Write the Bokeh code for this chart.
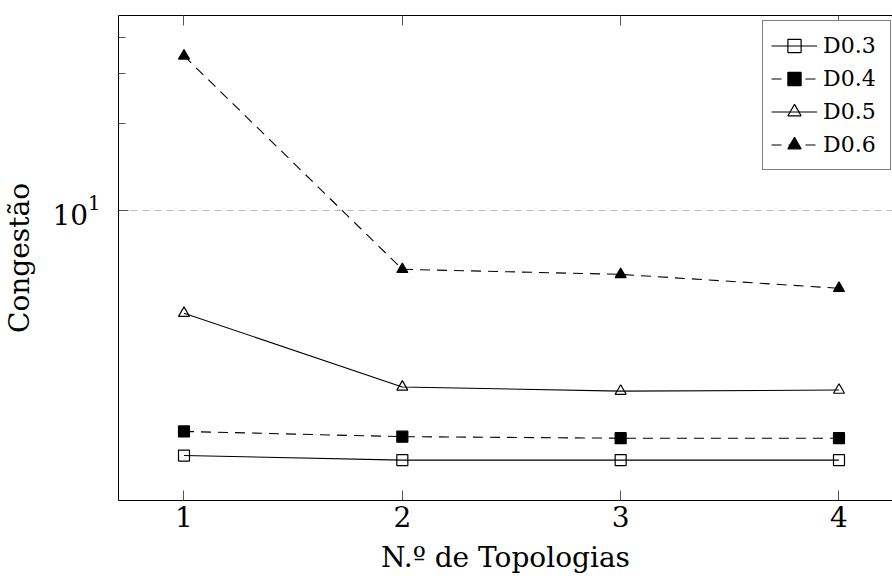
import math
from bokeh.plotting import figure
from bokeh.models import FixedTicker, LinearAxis, Legend, LegendItem, Range1d, LogAxis, Grid
from bokeh.embed import file_html
from bokeh.resources import INLINE

# ---- data ----
topologias = [1, 2, 3, 4]
d03 = [1.41, 1.36, 1.36, 1.36]
d04 = [1.71, 1.64, 1.62, 1.62]
d05 = [4.40, 2.44, 2.36, 2.38]
d06 = [34.4, 6.25, 6.00, 5.37]
series_names = ["D0.3", "D0.4", "D0.5", "D0.6"]
x_ticks = [1, 2, 3, 4]
y_major_ticks = [10]
y_minor_ticks = [20, 30, 40]
y_tick_labels = {"10": "10¹"}
x_label = "N.º de Topologias"
y_label = "Congestão"

FONT = "DejaVu Serif"

# pgfplots-like enlarged limits (10% of the log range on both sides)
all_vals = d03 + d04 + d05 + d06
lo, hi = math.log10(min(all_vals)), math.log10(max(all_vals))
pad = 0.1 * (hi - lo)
y_start, y_end = 10 ** (lo - pad), 10 ** (hi + pad)

W, H = 892, 581
BL, BR, BT, BB = 118, 0, 15, 81
FRAME_W = W - BL - BR
x_start = 0.7
x_end = x_start + FRAME_W / 218.33  # right part of the axis is cut off

p = figure(width=W, height=H,
           min_border_left=BL, min_border_right=BR, min_border_top=BT, min_border_bottom=BB,
           x_range=Range1d(x_start, x_end), y_range=Range1d(y_start, y_end),
           y_axis_type="log", y_axis_location=None, x_axis_location=None,
           output_backend="svg", toolbar_location=None)
p.outline_line_color = None
p.background_fill_color = "white"
p.border_fill_color = "white"
p.grid.visible = False

# bottom axis
xb = LinearAxis(ticker=FixedTicker(ticks=x_ticks), axis_label=x_label)
# top axis (border + inward ticks, labels hidden)
xt = LinearAxis(ticker=FixedTicker(ticks=x_ticks))
for ax in (xb, xt):
    ax.axis_line_color = "black"
    ax.axis_line_width = 1
    ax.major_tick_in = 10
    ax.major_tick_out = 0
    ax.minor_tick_in = 0
    ax.minor_tick_out = 0
    ax.major_tick_line_color = "#555555"
xb.major_label_text_font = FONT
xb.major_label_text_font_size = "28px"
xb.major_label_text_color = "black"
xb.major_label_standoff = 5
xb.axis_label_text_font = FONT
xb.axis_label_text_font_size = "28px"
xb.axis_label_text_font_style = "normal"
xb.axis_label_text_color = "black"
xb.axis_label_standoff = 11
xt.major_label_text_font_size = "1px"
xt.major_label_text_color = None
xt.major_label_standoff = 0
p.add_layout(xb, "below")
p.add_layout(xt, "above")

# left log axis
yl = LogAxis(ticker=FixedTicker(ticks=y_major_ticks, minor_ticks=y_minor_ticks), axis_label=y_label)
yl.axis_line_color = "black"
yl.major_tick_in = 10
yl.major_tick_out = 0
yl.minor_tick_in = 7
yl.minor_tick_out = 0
yl.major_tick_line_color = "#555555"
yl.minor_tick_line_color = "#555555"
yl.major_label_overrides = y_tick_labels
yl.major_label_text_font = FONT
yl.major_label_text_font_size = "28px"
yl.major_label_text_color = "black"
yl.major_label_standoff = 18
yl.axis_label_text_font = FONT
yl.axis_label_text_font_size = "28px"
yl.axis_label_text_font_style = "normal"
yl.axis_label_text_color = "black"
yl.axis_label_standoff = 13
p.add_layout(yl, "left")

# grid line at the major y tick only
g = Grid(dimension=1, ticker=FixedTicker(ticks=y_major_ticks))
g.grid_line_color = "#bdbdbd"
g.grid_line_dash = "7 5"
g.grid_line_width = 1
p.add_layout(g)

DASH = "10 7"
styles = [
    dict(data=d03, dash="solid", marker="square", size=11, fill=None),
    dict(data=d04, dash=DASH, marker="square", size=11, fill="black"),
    dict(data=d05, dash="solid", marker="triangle", size=11, fill=None),
    dict(data=d06, dash=DASH, marker="triangle", size=11, fill="black"),
]

items = []
for name, st in zip(series_names, styles):
    lr = p.line(topologias, st["data"], line_color="black", line_width=1.1, line_dash=st["dash"])
    sr = p.scatter(topologias, st["data"], marker=st["marker"], size=st["size"],
                   line_color="black", line_width=1.2,
                   fill_color=st["fill"], fill_alpha=1.0 if st["fill"] else 0.0)
    items.append(LegendItem(label=name, renderers=[lr, sr]))

legend = Legend(items=items, location=(644, 330))
legend.label_text_font = FONT
legend.label_text_font_size = "22px"
legend.label_text_color = "black"
legend.glyph_width = 46
legend.glyph_height = 33
legend.label_height = 33
legend.label_width = 59
legend.label_standoff = 6
legend.padding = 8
legend.spacing = 0
legend.margin = 0
legend.border_line_color = "black"
legend.border_line_width = 1
legend.background_fill_color = "white"
legend.background_fill_alpha = 1.0
p.add_layout(legend)

open("out.html", "w").write(file_html(p, INLINE))
